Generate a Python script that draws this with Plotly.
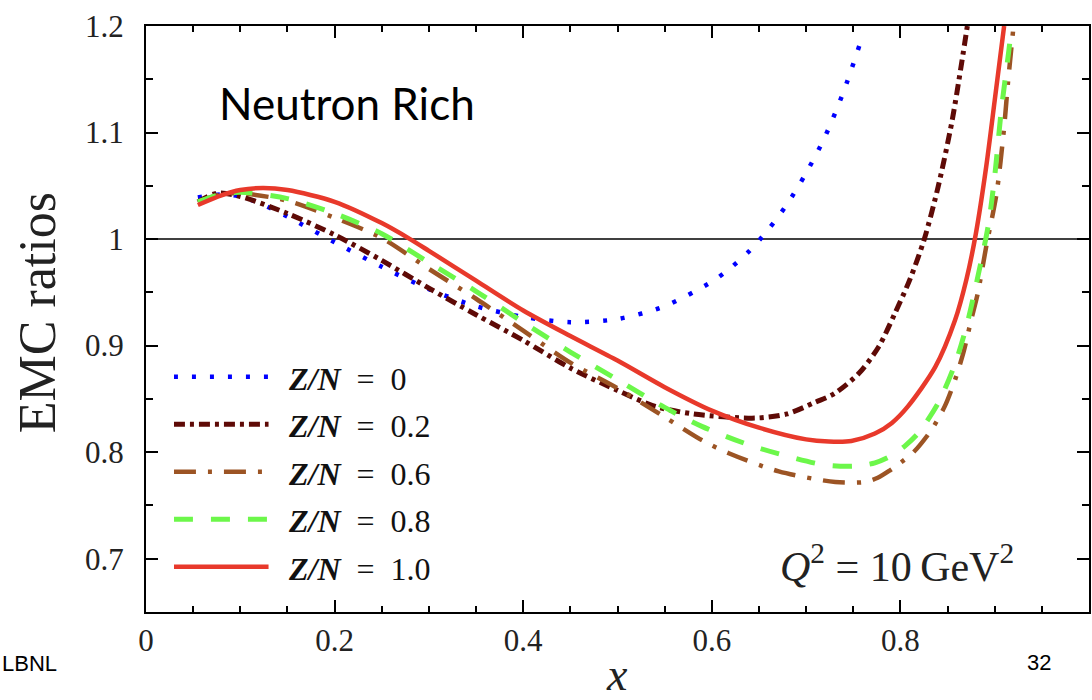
import plotly.graph_objects as go

# ---------------- data ----------------
labels = ["0", "0.2", "0.6", "0.8", "1.0"]

x_zn00 = [0.055, 0.08, 0.10, 0.12, 0.15, 0.20, 0.25, 0.30, 0.35, 0.40, 0.45, 0.50,
          0.55, 0.60, 0.62, 0.64, 0.66, 0.68, 0.70, 0.72, 0.74, 0.757]
y_zn00 = [1.039, 1.042, 1.040, 1.034, 1.021, 0.997, 0.974, 0.953, 0.937, 0.927, 0.922, 0.925,
          0.937, 0.960, 0.973, 0.989, 1.009, 1.033, 1.062, 1.096, 1.139, 1.183]

x_zn02 = [0.055, 0.075, 0.10, 0.15, 0.20, 0.25, 0.30, 0.35, 0.40, 0.45, 0.50, 0.54,
          0.58, 0.646, 0.68, 0.71, 0.73, 0.756, 0.777, 0.794, 0.81, 0.825, 0.84, 0.855, 0.871]
y_zn02 = [1.035, 1.043, 1.040, 1.024, 1.004, 0.980, 0.954, 0.929, 0.905, 0.879, 0.858, 0.843,
          0.836, 0.832, 0.836, 0.847, 0.855, 0.874, 0.899, 0.930, 0.962, 0.999, 1.049, 1.112, 1.200]

x_zn06 = [0.055, 0.08, 0.10, 0.15, 0.20, 0.25, 0.30, 0.35, 0.40, 0.45, 0.50, 0.55, 0.59,
          0.618, 0.671, 0.731, 0.762, 0.776, 0.789, 0.800, 0.814, 0.833, 0.847, 0.858, 0.867,
          0.875, 0.882, 0.891, 0.902, 0.910, 0.914, 0.920]
y_zn06 = [1.035, 1.042, 1.043, 1.036, 1.020, 1.001, 0.972, 0.944, 0.914, 0.884, 0.860, 0.833, 0.811,
          0.799, 0.782, 0.772, 0.772, 0.776, 0.783, 0.790, 0.800, 0.821, 0.843, 0.868, 0.894,
          0.924, 0.949, 0.993, 1.043, 1.105, 1.146, 1.200]

x_zn08 = [0.055, 0.08, 0.10, 0.15, 0.20, 0.25, 0.30, 0.35, 0.40, 0.45, 0.50, 0.55, 0.59,
          0.639, 0.681, 0.720, 0.752, 0.773, 0.791, 0.805, 0.819, 0.840, 0.858, 0.870, 0.879,
          0.893, 0.900, 0.907, 0.915, 0.918]
y_zn08 = [1.035, 1.042, 1.044, 1.038, 1.024, 1.005, 0.978, 0.951, 0.922, 0.894, 0.868, 0.842, 0.824,
          0.807, 0.796, 0.788, 0.787, 0.790, 0.797, 0.806, 0.818, 0.846, 0.883, 0.918, 0.952,
          1.012, 1.059, 1.121, 1.177, 1.200]

x_zn10 = [0.055, 0.08, 0.10, 0.124, 0.15, 0.20, 0.25, 0.28, 0.30, 0.35, 0.40, 0.45, 0.50,
          0.55, 0.60, 0.65, 0.70, 0.724, 0.748, 0.773, 0.791, 0.808, 0.837, 0.858, 0.870, 0.880,
          0.891, 0.900, 0.910]
y_zn10 = [1.032, 1.041, 1.046, 1.048, 1.046, 1.035, 1.015, 1.000, 0.989, 0.961, 0.933, 0.909, 0.886,
          0.861, 0.839, 0.823, 0.812, 0.810, 0.8105, 0.8175, 0.8275, 0.843, 0.880, 0.924, 0.962,
          1.005, 1.068, 1.130, 1.200]

xs = [x_zn00, x_zn02, x_zn06, x_zn08, x_zn10]
ys = [y_zn00, y_zn02, y_zn06, y_zn08, y_zn10]

x_tickvals = [0, 0.2, 0.4, 0.6, 0.8, 1.0]
x_ticktext = ["0", "0.2", "0.4", "0.6", "0.8", "1"]
y_tickvals = [0.7, 0.8, 0.9, 1.0, 1.1, 1.2]
y_ticktext = ["0.7", "0.8", "0.9", "1", "1.1", "1.2"]
reference_level = 1.0

# ---------------- styles ----------------
colors = ["#0000ff", "#5e0a06", "#9c5424", "#6cf74a", "#e8392b"]
widths = [4.5, 5, 4.5, 5, 4.5]
dashes = ["4px,14px", "11px,5px,4px,5px", "22px,12px,4px,12px", "19px,18px", "solid"]

SERIF = "Liberation Serif"
W, H = 1092, 700
ML, MR, MT, MB = 146, 1, 26, 88
PW, PH = W - ML - MR, H - MT - MB


def px(xp):  # pixel -> paper x
    return (xp - ML) / PW


def py(yp):  # pixel -> paper y
    return (H - MB - yp) / PH


fig = go.Figure()

for i in range(len(labels)):
    fig.add_trace(go.Scatter(
        x=xs[i], y=ys[i], mode="lines",
        line=dict(color=colors[i], width=widths[i], dash=dashes[i], shape="spline", smoothing=0.8),
        showlegend=False, xaxis="x", yaxis="y", hoverinfo="skip",
    ))

# custom legend: long line samples on an auxiliary hidden axis pair
leg_top, leg_step = 376.8, 47.5
for i in range(len(labels)):
    fig.add_trace(go.Scatter(
        x=[0, 1], y=[i, i], mode="lines",
        line=dict(color=colors[i], width=widths[i], dash=dashes[i]),
        showlegend=False, xaxis="x2", yaxis="y2", hoverinfo="skip",
    ))
    fig.add_annotation(
        x=px(286), y=py(leg_top + leg_step * i + 2), xref="paper", yref="paper",
        xanchor="left", yanchor="middle",
        text="<b><i>Z/N</i></b>\u2002=\u2002" + labels[i], showarrow=False,
        font=dict(family=SERIF, size=32, color="#111"),
    )

fig.add_hline(y=reference_level, line=dict(color="black", width=1.5), layer="below")

axis_common = dict(
    showline=True, linecolor="black", linewidth=2, mirror="allticks",
    ticks="inside", ticklen=12, tickwidth=1.5, tickcolor="black",
    showgrid=False, zeroline=False,
    tickfont=dict(family=SERIF, size=31, color="#222"),
)

fig.update_layout(
    width=W, height=H,
    margin=dict(l=ML, r=MR, t=MT, b=MB),
    paper_bgcolor="white", plot_bgcolor="white",
    xaxis=dict(
        range=[0, 1], tickvals=x_tickvals, ticktext=x_ticktext,
        minor=dict(ticks="inside", dtick=0.05, ticklen=6, tickwidth=1.5, tickcolor="black"),
        ticklabelstandoff=0,
        **axis_common,
    ),
    yaxis=dict(
        range=[0.65, 1.2], tickvals=y_tickvals, ticktext=y_ticktext,
        minor=dict(ticks="inside", dtick=0.05, ticklen=7, tickwidth=1.5, tickcolor="black"),
        ticklabelstandoff=14,
        **axis_common,
    ),
    xaxis2=dict(domain=[px(174), px(269)], range=[0, 1], visible=False, anchor="y2"),
    yaxis2=dict(domain=[py(leg_top + 4.5 * leg_step), py(leg_top - 0.5 * leg_step)],
                range=[4.5, -0.5], visible=False, anchor="x2"),
    showlegend=False,
)

# titles / free text
fig.add_annotation(x=px(37), y=py(313), xref="paper", yref="paper", xanchor="center", yanchor="middle",
                   text="EMC ratios", showarrow=False, textangle=-90,
                   font=dict(family=SERIF, size=52, color="#222"))
fig.add_annotation(x=px(618), y=py(674), xref="paper", yref="paper", xanchor="center", yanchor="middle",
                   text="<i>x</i>", showarrow=False, font=dict(family=SERIF, size=46, color="#222"))
fig.add_annotation(x=px(347), y=py(103), xref="paper", yref="paper", xanchor="center", yanchor="middle",
                   text="Neutron Rich", showarrow=False, font=dict(family="Lato", size=44, color="black"))
fig.add_annotation(x=px(1018), y=py(563), xref="paper", yref="paper", xanchor="right", yanchor="middle",
                   text="<i>Q</i><sup>2</sup> = 10\u2009GeV<sup>2</sup>", showarrow=False,
                   font=dict(family=SERIF, size=42, color="#222"))
fig.add_annotation(x=px(0), y=py(663), xref="paper", yref="paper", xanchor="left", yanchor="middle",
                   text="LBNL", showarrow=False, font=dict(family="Liberation Sans", size=22, color="black"))
fig.add_annotation(x=px(1041), y=py(662), xref="paper", yref="paper", xanchor="center", yanchor="middle",
                   text="32", showarrow=False, font=dict(family="Liberation Sans", size=22, color="black"))

fig.write_html("out.html")
